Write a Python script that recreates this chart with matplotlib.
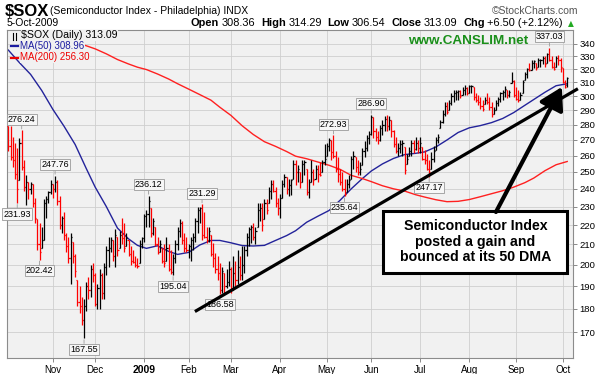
import numpy as np
import pandas as pd
import matplotlib
matplotlib.use('Agg')
import matplotlib.pyplot as plt
from matplotlib import font_manager
from matplotlib.ticker import FixedLocator, NullLocator, FuncFormatter
from matplotlib.patches import Rectangle, FancyArrowPatch

plt.rcParams['font.family'] = ['Liberation Sans', 'DejaVu Sans']

# trading days shown on the chart (weekends and NYSE holidays skipped)
holidays = ['2008-11-27', '2008-12-25', '2009-01-01', '2009-01-19', '2009-02-16',
            '2009-04-10', '2009-05-25', '2009-07-03', '2009-09-07']
days = pd.bdate_range('2008-10-06', '2009-10-05')
days = days[~days.isin(pd.to_datetime(holidays))]

prev_close = 280.0
last_open = 308.36

highs = [
    # Oct 2008
    279, 279, 272, 268, 265, 271, 276.24, 257, 248, 244,
    244, 243, 235, 223, 221, 219, 234, 236, 239, 245,
    # Nov
    243, 247.76, 245, 236, 225, 227, 216, 214, 216, 211,
    205, 193, 190, 185, 184, 192, 194, 200, 201,
    # Dec
    196, 191, 198, 196, 201, 209, 214, 214, 212, 218,
    214, 217, 224, 221, 216, 212, 209, 207, 204, 203,
    212, 214,
    # Jan 2009
    226, 228, 236.12, 229, 224, 219, 214, 212, 208, 210,
    214, 210, 207, 205, 212, 219, 223, 222, 216, 214,
    # Feb
    210, 214, 216, 224, 230, 230, 231.29, 227, 219, 219,
    215, 210.5, 205.5, 204, 200.6, 199, 196, 198, 202,
    # Mar
    199, 204, 202, 207, 204, 209, 209, 216, 219, 220,
    221, 219, 232, 232, 232, 234, 234, 241, 245, 245,
    241, 235,
    # Apr
    237, 245, 249, 247, 246, 246, 257, 257, 254, 250,
    257, 257, 252, 246, 257, 252, 254, 254, 256, 257,
    267,
    # May
    268, 271, 270, 272.93, 263, 259, 252, 250, 246, 246,
    248, 260, 263, 259, 257, 256, 265, 269, 273, 276,
    # Jun
    286.90, 285, 278, 276, 280, 283, 286, 286.5, 286, 283,
    276.5, 272, 268, 270, 270, 265.6, 261, 265.6, 270, 270,
    272, 270,
    # Jul
    272, 265.6, 263.5, 261, 257, 262, 266, 272, 274, 283,
    290, 295.6, 295.6, 297, 302, 304, 304.4, 304.4, 304.4, 306.4,
    308.4, 306.4,
    # Aug
    308.4, 308.4, 306.4, 302.4, 300.4, 299, 297, 299.6, 302, 299.6,
    296, 292, 297.2, 299.6, 303, 304.4, 307, 304.4, 304.4, 317.5,
    311.8,
    # Sep
    306.9, 304.4, 303, 311.8, 318, 321, 324.6, 327.2, 327.2, 324.6,
    328.5, 328, 330, 330, 333, 337.03, 330, 325.9, 330, 331,
    329,
    # Oct
    320.7, 311.8, 314.29,
]

lows = [
    263, 257, 253, 246, 231.93, 245, 251, 239, 231, 234,
    237, 230, 221, 207, 202.42, 208, 212, 224, 232, 237,
    235, 238, 231, 218, 216, 212, 206, 201, 191, 201,
    194, 181, 178, 173, 167.55, 179, 184, 185, 192,
    181, 180, 180, 184, 184, 195, 199, 206, 202, 199,
    204, 208, 210, 206, 209, 204, 200, 201, 199, 198.5,
    201, 208,
    211, 219, 219, 214, 215, 209, 205, 206, 201, 199,
    202, 197, 195.5, 195.04, 201, 207, 214, 210, 206, 206,
    203, 202, 207, 211, 216, 221, 212, 213, 210.5, 211,
    204, 199, 196, 193, 186.58, 187, 187, 189, 190,
    187, 188, 190, 191, 193, 193, 196, 204, 209, 210.5,
    212, 210, 219, 222, 217, 223, 226, 232, 234, 238,
    230, 225.5,
    224, 235, 241, 237, 236, 236.5, 246, 242, 244, 240.5,
    244, 248, 236.5, 235, 244, 242, 246, 244, 247.5, 250,
    254,
    260, 263, 257, 258.7, 250, 244, 242, 238.5, 235.64, 238,
    240.5, 246, 252, 250, 248, 248, 254, 259, 263, 267,
    273, 271.5, 269, 267, 269, 273, 276, 276, 276.5, 272,
    265.6, 261.4, 259.4, 261.4, 259.4, 249, 255, 259.4, 259.4, 261.4,
    263.5, 261.4,
    261.4, 257.3, 255, 251, 247.17, 252, 256, 263.5, 267.8, 277.5,
    281, 286, 287, 290, 293.7, 295.6, 297, 297.2, 298.5, 300.4,
    300.4, 300.4,
    302.4, 302.4, 297.2, 295.6, 293.7, 291, 289.5, 294, 294, 290,
    285.5, 287, 290, 292.7, 296, 297.2, 299.6, 298.5, 299.6, 309.3,
    299.6,
    297.2, 296, 297.2, 302, 311.8, 313, 318.4, 319.4, 320.7, 319.4,
    322, 322, 324, 322, 324.6, 326, 320.7, 319.4, 322, 323.3,
    318,
    309.3, 305.5, 306.54,
]

closes = [
    266, 259, 257, 249, 240, 268, 253, 241, 244, 240,
    243, 232, 224, 210, 206, 212, 232, 234, 238, 243,
    240, 244, 233, 220, 224, 215, 209, 203, 214, 204,
    197, 183, 181, 175, 181, 190, 188, 198, 195,
    182, 189, 195, 187, 199, 207, 208, 212, 204, 215,
    207, 215, 213, 208, 213, 205, 202, 201.5, 200, 199.5,
    210, 213,
    225, 226, 233, 216, 222, 210, 206, 210, 202, 201,
    208, 198, 196.5, 203, 210, 217, 221, 212, 208, 207,
    209, 212, 214, 222, 228, 229, 215, 214, 212, 217,
    205, 203, 198, 196, 188, 197, 190, 192, 198,
    188, 196, 193, 199, 195, 200, 207, 214, 218, 219,
    214, 217, 228, 229, 220, 232, 228, 239, 243, 239,
    232, 229,
    235, 243, 247, 240, 242, 245, 255, 250, 252, 244,
    255, 256, 238, 244, 250, 245, 252, 249, 248, 256,
    258,
    266, 270, 262, 260, 252, 249, 244, 240, 237, 243,
    245, 258, 260, 253, 250, 252, 263, 265, 271, 274,
    285, 276, 272, 270, 278, 280, 284, 279, 283, 276,
    267, 263, 265, 267, 268, 251, 258, 263, 268, 264,
    268, 265,
    268, 258, 257, 252, 250, 258, 263, 270, 272, 282,
    287, 293, 289, 295, 300, 302, 303, 303.5, 300, 304,
    306, 302,
    307, 307.5, 299, 297, 296, 293, 291, 297, 295.5, 292,
    287, 290, 295, 298, 302, 303, 305, 301, 303, 311,
    301,
    298, 297, 301, 310, 316, 320.5, 319.5, 325, 326, 321,
    327, 327.5, 329, 324, 332, 327, 322, 320.5, 329, 327,
    322,
    310, 306.59, 313.09,
]

# moving averages
ma_dates = ['2008-10-06', '2008-10-13', '2008-10-20', '2008-10-27', '2008-11-03',
            '2008-11-10', '2008-11-17', '2008-11-24', '2008-12-01', '2008-12-08',
            '2008-12-15', '2008-12-22', '2008-12-29', '2009-01-05', '2009-01-12',
            '2009-01-20', '2009-01-26', '2009-02-02', '2009-02-09', '2009-02-17',
            '2009-02-23', '2009-03-02', '2009-03-09', '2009-03-16', '2009-03-23',
            '2009-03-30', '2009-04-06', '2009-04-13', '2009-04-20', '2009-04-27',
            '2009-05-04', '2009-05-11', '2009-05-18', '2009-05-26', '2009-06-01',
            '2009-06-08', '2009-06-15', '2009-06-22', '2009-06-29', '2009-07-06',
            '2009-07-13', '2009-07-20', '2009-07-27', '2009-08-03', '2009-08-10',
            '2009-08-17', '2009-08-24', '2009-08-31', '2009-09-08', '2009-09-14',
            '2009-09-21', '2009-09-28', '2009-10-05']
ma50 = [335, 325, 316, 304, 290.5, 279, 267, 252, 241, 230,
        218.4, 212.8, 209.5, 208, 209.3, 206.5, 205, 206, 209.7, 212,
        212, 210.8, 209.4, 209.2, 209.5, 212, 214.5, 217, 221.5, 224.7,
        227.8, 233.5, 240, 246, 250.5, 254.8, 258.2, 260.6, 261.4, 262.3,
        265.4, 269.9, 274.8, 277.9, 279.4, 281.4, 284.2, 288.3, 293.4, 297.5,
        302.7, 307.5, 308.96]
ma200 = [360, 356.5, 353.5, 350.5, 347.5, 344.5, 341.5, 338.5, 336, 332,
         327.5, 324, 321.5, 319.7, 316.3, 312.5, 309, 305, 301, 297,
         292, 286.3, 279.3, 273.5, 268.8, 265.8, 262.5, 259.6, 258, 256,
         254, 251.5, 247.9, 246, 244.2, 241.8, 240, 238.7, 236.6, 235.3,
         233.8, 232.7, 232.9, 233.9, 235.5, 237.2, 238.9, 241, 243.6, 246.3,
         250.7, 254.3, 256.3]

# swing points StockCharts labelled
callouts = [('2008-10-14', 'up'), ('2008-10-10', 'down'), ('2008-11-04', 'up'),
            ('2008-10-24', 'down'), ('2008-11-21', 'down'), ('2009-01-06', 'up'),
            ('2009-01-22', 'down'), ('2009-02-10', 'up'), ('2009-02-23', 'down'),
            ('2009-05-06', 'up'), ('2009-05-13', 'down'), ('2009-06-01', 'up'),
            ('2009-07-08', 'down'), ('2009-09-23', 'up')]

month_labels = ['Nov', 'Dec', '2009', 'Feb', 'Mar', 'Apr', 'May', 'Jun',
                'Jul', 'Aug', 'Sep', 'Oct']

W, H = 605, 374
fig = plt.figure(figsize=(W / 100, H / 100), dpi=100)
ax = fig.add_axes([7 / W, 1 - 358.3 / H, (573 - 7) / W, (358.3 - 29.5) / H])
bg = '#f1f1f1'
ax.set_facecolor(bg)

x = np.arange(len(closes))
h = np.array(highs, float)
l = np.array(lows, float)
c = np.array(closes, float)
o = np.concatenate([[prev_close], c[:-1]])
o[-1] = last_open
o = np.clip(o, l, h)
prev = np.concatenate([[prev_close], c[:-1]])
cols = np.where(c >= prev, 'black', '#ff0000')

ax.vlines(x, l, h, colors=cols, lw=0.9, zorder=3)
ax.hlines(o, x - 0.5, x, colors=cols, lw=0.9, zorder=3)
ax.hlines(c, x, x + 0.5, colors=cols, lw=0.9, zorder=3)

ma_x = [days.get_loc(pd.Timestamp(d)) for d in ma_dates]
ax.plot(ma_x, ma50, color='#23239a', lw=1.0, zorder=2)
ax.plot(ma_x, ma200, color='#ff2020', lw=1.0, zorder=2)

ax.set_yscale('log')
ax.set_ylim(159.7, 352)
ax.set_xlim(-0.6, 253.6)
ax.yaxis.set_major_locator(FixedLocator(list(range(170, 341, 10))))
ax.yaxis.set_minor_locator(NullLocator())
ax.yaxis.set_major_formatter(FuncFormatter(lambda v, p: f'{v:.0f}'))
ax.yaxis.tick_right()
ax.tick_params(axis='y', direction='out', length=3, width=0.6, labelsize=6.8,
               pad=1.5, color='#777777')

month_starts = []
for m in pd.period_range('2008-11', '2009-10', freq='M'):
    month_starts.append(int(np.argmax(days.to_period('M') == m)))
ax.set_xticks(month_starts)
ax.set_xticklabels(month_labels, fontsize=7)
for t in ax.get_xticklabels():
    if t.get_text() == '2009':
        t.set_fontweight('bold')
        t.set_fontsize(7.5)
ax.xaxis.set_minor_locator(NullLocator())
ax.tick_params(axis='x', direction='out', length=3, width=0.6, pad=2, color='#777777')

ax.grid(True, color='#cfcfcf', lw=0.6)
ax.set_axisbelow(True)
for s in ax.spines.values():
    s.set_color('#8c8c8c')
    s.set_linewidth(0.8)

# swing-point labels
for d, side in callouts:
    k = days.get_loc(pd.Timestamp(d))
    v = highs[k] if side == 'up' else lows[k]
    off = 11 if side == 'up' else -11
    ax.annotate(f'{v:.2f}', xy=(k, v), xytext=(0, off), textcoords='offset pixels',
                ha='center', va='center', fontsize=6.5, zorder=4,
                bbox=dict(boxstyle='square,pad=0.12', fc='#f7f7f7', ec='#9a9a9a', lw=0.6),
                arrowprops=dict(arrowstyle='-', color='#9a9a9a', lw=0.6,
                                shrinkA=0, shrinkB=1),
                annotation_clip=False)

# hand-drawn trendline and note
ax.plot([83.8, 255.8], [178.7, 305.3], color='black', lw=2.3, zorder=6,
        clip_on=False, solid_capstyle='butt')
ax.add_patch(Rectangle((0.665, 0.2585), 0.325, 0.1905, transform=ax.transAxes,
                       fc='white', ec='black', lw=2.2, zorder=7))
names = {f.name for f in font_manager.fontManager.ttflist}
narrow = 'Liberation Sans Narrow' if 'Liberation Sans Narrow' in names else 'Liberation Sans'
nsize = 11.5 if narrow == 'Liberation Sans Narrow' else 10.2
for txt, yy in [('Semiconductor Index', 225.7), ('posted a gain and', 241.7),
                ('bounced at its 50 DMA', 256.7)]:
    ax.text(0.8275, (358.3 - yy) / 328.8, txt, transform=ax.transAxes, ha='center',
            va='center', fontsize=nsize, fontweight='bold', family=narrow, zorder=8)
arr = FancyArrowPatch((219, 227.0), (248.6, 306.6), arrowstyle='-|>,head_length=1.1,head_width=0.65',
                      mutation_scale=12, lw=3, color='black', zorder=8,
                      shrinkA=0, shrinkB=0)
ax.add_patch(arr)

ax.text(0.708, 0.955, 'www.CANSLIM.net', transform=ax.transAxes, ha='left',
        va='baseline', fontsize=9.7, fontweight='bold', color='#1a8f1a', zorder=5)

# legend inside the chart
rend = fig.canvas.get_renderer()
box = dict(boxstyle='square,pad=0.05', fc=bg, ec='none')
fig.text(21.4 / W, 1 - 38.5 / H, rf'\$SOX (Daily) {closes[-1]:.2f}', fontsize=7.6,
         va='baseline', bbox=box, zorder=10)
fig.text(20 / W, 1 - 49 / H, f'MA(50) {ma50[-1]:.2f}', fontsize=7, va='baseline',
         color='#1c1ca0', bbox=box, zorder=10)
fig.text(20 / W, 1 - 60.5 / H, f'MA(200) {ma200[-1]:.2f}', fontsize=7, va='baseline',
         color='#ee0000', bbox=box, zorder=10)
fig.add_artist(plt.Line2D([11 / W, 17.5 / W], [1 - 46 / H, 1 - 46 / H], color='#1c1ca0', lw=1.6))
fig.add_artist(plt.Line2D([11 / W, 17.5 / W], [1 - 58 / H, 1 - 58 / H], color='#ee0000', lw=1.6))
for gx in (12.5, 16):
    fig.add_artist(plt.Line2D([gx / W, gx / W], [1 - 32.5 / H, 1 - 39.5 / H], color='black', lw=0.8))

# header
fig.text(5 / W, 1 - 16 / H, r'\$SOX', fontsize=12, fontweight='bold', va='baseline')
fig.text(50 / W, 1 - 14 / H, '(Semiconductor Index - Philadelphia) INDX', fontsize=7.5,
         va='baseline')
fig.text(578 / W, 1 - 13.5 / H, '\u00a9StockCharts.com', fontsize=7.5, va='baseline',
         ha='right', color='#555555')
fig.text(7 / W, 1 - 26 / H, '5-Oct-2009', fontsize=7.5, va='baseline')

chg = closes[-1] - closes[-2]
pct = chg / closes[-2] * 100
pieces = [('Open', 'bold'), (f'{last_open:.2f}', 'normal'), ('High', 'bold'),
          (f'{highs[-1]:.2f}', 'normal'), ('Low', 'bold'), (f'{lows[-1]:.2f}', 'normal'),
          ('Close', 'bold'), (f'{closes[-1]:.2f}', 'normal'), ('Chg', 'bold'),
          (f'+{chg:.2f} (+{pct:.2f}%)', 'normal')]
px = 190.6
for n, (s, wgt) in enumerate(pieces):
    t = fig.text(px / W, 1 - 26 / H, s, fontsize=7.9, fontweight=wgt, va='baseline')
    px += t.get_window_extent(rend).width + (2.8 if wgt == 'bold' else 5.5)
fig.text((px - 0.5) / W, 1 - 26 / H, '\u25b2', fontsize=5.5, color='#22aa22', va='baseline',
         family='DejaVu Sans')

fig.savefig('out.png', dpi=100)
